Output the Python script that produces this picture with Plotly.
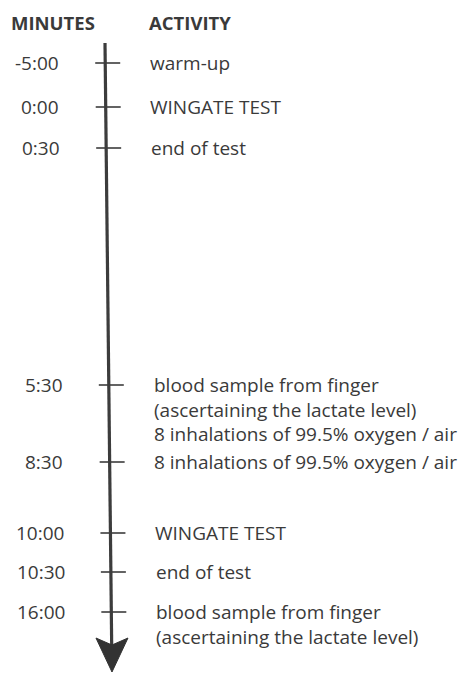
import plotly.graph_objects as go

# ---- data ----
times = ["-5:00", "0:00", "0:30", "5:30", "8:30", "10:00", "10:30", "16:00"]
activities = [
    ["warm-up"],
    ["WINGATE TEST"],
    ["end of test"],
    ["blood sample from finger", "(ascertaining the lactate level)",
     "8 inhalations of 99.5% oxygen / air"],
    ["8 inhalations of 99.5% oxygen / air"],
    ["WINGATE TEST"],
    ["end of test"],
    ["blood sample from finger", "(ascertaining the lactate level)"],
]
headers = ["MINUTES", "ACTIVITY"]

# ---- layout constants (pixel schematic) ----
W, H = 467, 673
ROW_Y = [63, 107, 148, 385, 462, 533, 572, 612]
LINE_TOP, LINE_BOT = 43, 645
TIP_Y = 672
SLANT = 0.0111          # slight tilt of the scanned page
FONT = "Open Sans"
FS = 19
HFS = 18.5
INK = "#3a3a3a"


def lx(y):
    return 105 + (y - 43) * SLANT


fig = go.Figure()

# main vertical line
fig.add_trace(go.Scatter(x=[lx(LINE_TOP), lx(LINE_BOT)], y=[LINE_TOP, LINE_BOT],
                         mode="lines", line=dict(color="#3c3c3c", width=3.2),
                         hoverinfo="skip", showlegend=False))

# tick marks
tx, ty = [], []
for y in ROW_Y:
    tx += [lx(y) - 10, lx(y) + 15, None]
    ty += [y, y, None]
fig.add_trace(go.Scatter(x=tx, y=ty, mode="lines", line=dict(color="#3c3c3c", width=1.6),
                         hoverinfo="skip", showlegend=False))

# arrow head
c = lx(TIP_Y)
ax = [c - 16, c, c + 16, c, c - 16]
ay = [638, 645, 638, TIP_Y, 638]
fig.add_trace(go.Scatter(x=ax, y=ay, mode="lines", fill="toself", fillcolor="#333333",
                         line=dict(color="#333333", width=1), hoverinfo="skip", showlegend=False))

ann = []
for t, y in zip(times, ROW_Y):
    ann.append(dict(x=61 + (y - 63) * SLANT, y=y, text=t, xanchor="right", yanchor="middle",
                    showarrow=False, font=dict(family=FONT, size=FS, color=INK)))
for lines, y in zip(activities, ROW_Y):
    ann.append(dict(x=148 + (y - 63) * SLANT, y=y - (1.3 * FS) / 2 - 3, text="<br>".join(lines),
                    xanchor="left", yanchor="top", align="left",
                    showarrow=False, font=dict(family=FONT, size=FS, color=INK)))
ann.append(dict(x=9, y=22, text="<b>" + headers[0] + "</b>", xanchor="left", yanchor="middle",
                showarrow=False, font=dict(family=FONT, size=HFS, color=INK)))
ann.append(dict(x=147, y=22, text="<b>" + headers[1] + "</b>", xanchor="left", yanchor="middle",
                showarrow=False, font=dict(family=FONT, size=HFS, color=INK)))

fig.update_layout(
    width=W, height=H, margin=dict(l=0, r=0, t=0, b=0),
    paper_bgcolor="white", plot_bgcolor="white",
    xaxis=dict(range=[0, W], visible=False, fixedrange=True),
    yaxis=dict(range=[H, 0], visible=False, fixedrange=True),
    annotations=ann, showlegend=False,
)
fig.write_html("out.html", config={"displayModeBar": False},
               post_script="document.body.style.margin='0';document.body.style.overflow='hidden';")
